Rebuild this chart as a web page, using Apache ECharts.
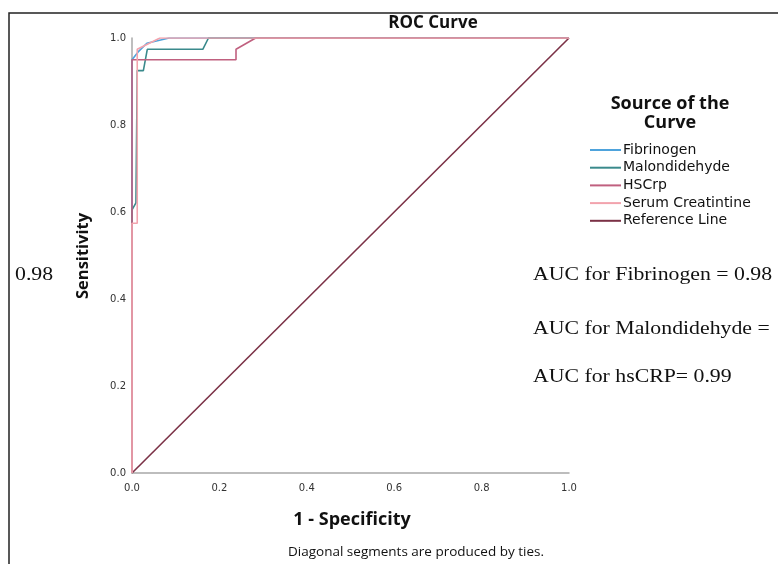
<!DOCTYPE html>
<html><head><meta charset="utf-8">
<script src="https://cdn.jsdelivr.net/npm/echarts@6/dist/echarts.min.js"></script>
<style>html,body{margin:0;padding:0;background:#fff}#c{width:778px;height:564px}</style>
</head><body><div id="c"></div>
<script>
const seriesNames = ['Fibrinogen','Malondidehyde','HSCrp','Serum Creatintine','Reference Line'];
const fibrinogenX = [0, 0, 0.014, 0.034, 0.085, 1];
const fibrinogenY = [0, 0.95, 0.968, 0.988, 1, 1];
const malondX = [0, 0, 0.009, 0.012, 0.026, 0.035, 0.162, 0.175, 1];
const malondY = [0, 0.605, 0.621, 0.925, 0.925, 0.974, 0.974, 1, 1];
const hscrpX = [0, 0, 0.238, 0.238, 0.283, 1];
const hscrpY = [0, 0.95, 0.95, 0.974, 1, 1];
const serumX = [0, 0, 0.012, 0.012, 0.064, 1];
const serumY = [0, 0.574, 0.574, 0.974, 1, 1];
const refX = [0, 1];
const refY = [0, 1];
const tickLabels = ['0.0','0.2','0.4','0.6','0.8','1.0'];
const aucTexts = ['AUC for Fibrinogen = 0.98','AUC for Malondidehyde =','AUC for hsCRP= 0.99'];
const strayText = '0.98';
const colors = ['#4ea3dc','#3a8a8c','#c0607f','#f2a3ad','#7b3146'];

function pairs(xs, ys){ return xs.map((x,i)=>[x, ys[i]]); }
const allX = [fibrinogenX, malondX, hscrpX, serumX, refX];
const allY = [fibrinogenY, malondY, hscrpY, serumY, refY];

const chart = echarts.init(document.getElementById('c'));
const sans = '"Open Sans", "DejaVu Sans", sans-serif';
const dj = '"DejaVu Sans", sans-serif';
const serif = '"Liberation Serif", serif';
function serifText(t, x, y){
  return {type:'text', x: x, y: y, scaleX: 1.21, style:{text: t, font:'18px '+serif, fill:'#111', verticalAlign:'middle'}};
}
chart.setOption({
  animation: false,
  backgroundColor: '#fff',
  grid: {left: 132, top: 38, width: 437, height: 435, containLabel: false},
  xAxis: {
    type: 'value', min: 0, max: 1, interval: 0.2,
    axisLine: {show: true, lineStyle: {color: '#a8a8a8', width: 1.5}},
    axisTick: {show: false}, splitLine: {show: false},
    axisLabel: {fontFamily: dj, fontSize: 10, color: '#333', margin: 10,
      formatter: v => tickLabels[Math.round(v*5)]}
  },
  yAxis: {
    type: 'value', min: 0, max: 1, interval: 0.2,
    axisLine: {show: true, lineStyle: {color: '#a8a8a8', width: 1.5}},
    axisTick: {show: false}, splitLine: {show: false},
    axisLabel: {fontFamily: dj, fontSize: 10, color: '#333', margin: 6,
      formatter: v => tickLabels[Math.round(v*5)]}
  },
  legend: {
    orient: 'vertical', left: 590, top: 143, itemGap: 3.7, padding: 0,
    itemWidth: 31, itemHeight: 2, icon: 'rect',
    data: seriesNames,
    textStyle: {fontFamily: dj, fontSize: 14, color: '#111', padding: [0,0,0,-3], lineHeight: 14}
  },
  series: seriesNames.map((n,i)=>({
    name: n, type: 'line', data: pairs(allX[i], allY[i]),
    symbol: 'none', color: colors[i],
    lineStyle: {width: 1.6, color: colors[i]}, z: i===4 ? 1 : 2
  })),
  graphic: [
    {type:'rect', shape:{x:9,y:13,width:790,height:580}, style:{fill:'none', stroke:'#222', lineWidth:1.5}, silent:true},
    {type:'text', x: 433, y: 23, style:{text:'ROC Curve', font:'bold 17px '+sans, fill:'#111', align:'center', verticalAlign:'middle'}},
    {type:'text', x: 670, y: 104, style:{text:'Source of the', font:'bold 18px '+sans, fill:'#111', align:'center', verticalAlign:'middle'}},
    {type:'text', x: 670, y: 123, style:{text:'Curve', font:'bold 18px '+sans, fill:'#111', align:'center', verticalAlign:'middle'}},
    {type:'text', x: 83, y: 256, rotation: Math.PI/2, style:{text:'Sensitivity', font:'bold 16.5px '+sans, fill:'#111', align:'center', verticalAlign:'middle'}},
    {type:'text', x: 352, y: 520, style:{text:'1 - Specificity', font:'bold 18px '+sans, fill:'#111', align:'center', verticalAlign:'middle'}},
    {type:'text', x: 416, y: 552, style:{text:'Diagonal segments are produced by ties.', font:'13.5px '+sans, fill:'#111', align:'center', verticalAlign:'middle'}},
    serifText(strayText, 15, 275),
    serifText(aucTexts[0], 533, 275),
    serifText(aucTexts[1], 533, 329),
    serifText(aucTexts[2], 533, 377)
  ]
});
</script></body></html>
